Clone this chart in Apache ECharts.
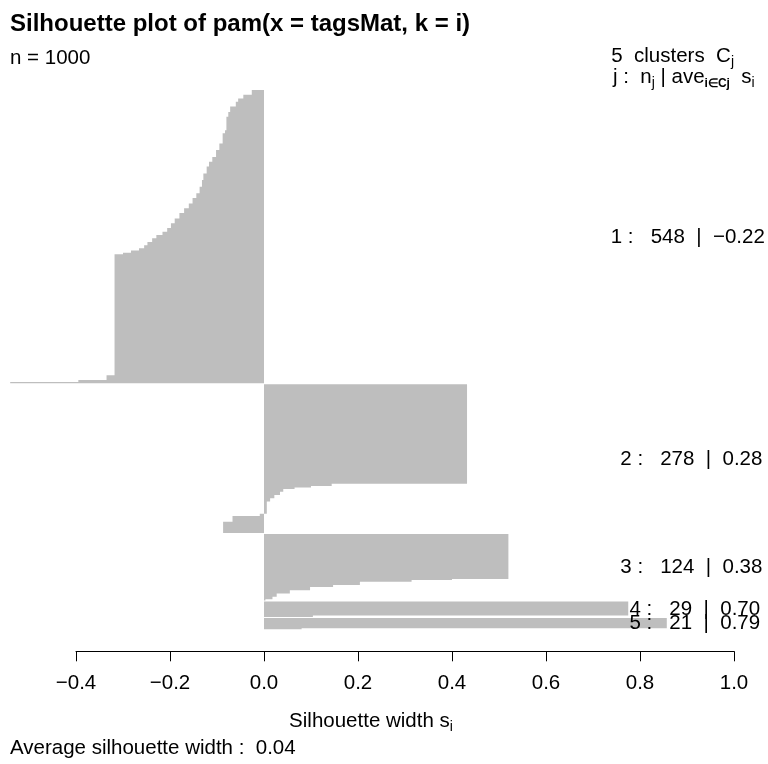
<!DOCTYPE html>
<html>
<head>
<meta charset="utf-8">
<script src="https://cdn.jsdelivr.net/npm/echarts@6/dist/echarts.min.js"></script>
<style>
  html, body { margin: 0; padding: 0; background: #ffffff; }
  #chart { width: 768px; height: 764px; }
</style>
</head>
<body>
<div id="chart"></div>
<script>
// Silhouette widths s(i) for each cluster, sorted from the top bar down,
// stored as runs of [width, number of observations].
const cluster1 = [
  [-0.026, 9], [-0.044, 7], [-0.055, 6], [-0.060, 9], [-0.072, 10], [-0.076, 9],
  [-0.080, 25], [-0.083, 6], [-0.088, 19], [-0.095, 12], [-0.102, 13], [-0.110, 9],
  [-0.117, 9], [-0.122, 13], [-0.129, 12], [-0.132, 13], [-0.137, 12], [-0.144, 9],
  [-0.152, 10], [-0.160, 9], [-0.170, 9], [-0.180, 10], [-0.190, 9], [-0.198, 9],
  [-0.206, 7], [-0.216, 6], [-0.229, 6], [-0.238, 7], [-0.248, 6], [-0.255, 6],
  [-0.266, 4], [-0.283, 4], [-0.300, 3], [-0.318, 226], [-0.335, 9], [-0.395, 4],
  [-0.540, 2]
];
const cluster2 = [
  [0.432, 186], [0.144, 4], [0.100, 3], [0.065, 3], [0.041, 5], [0.034, 6],
  [0.022, 6], [0.013, 6], [0.006, 23], [-0.009, 4], [-0.067, 11], [-0.087, 21]
];
const cluster3 = [
  [0.520, 84], [0.400, 2], [0.314, 3], [0.204, 6], [0.147, 4], [0.098, 6],
  [0.055, 6], [0.027, 6], [0.018, 5], [0.003, 2]
];
const cluster4 = [[0.775, 26], [0.104, 3]];
const cluster5 = [[0.857, 19], [0.080, 2]];

const clusterIds = ['1', '2', '3', '4', '5'];
const clusterSizes = [548, 278, 124, 29, 21];
const clusterAverages = ['-0.22', '0.28', '0.38', '0.70', '0.79'];
const totalN = 1000;
const averageWidth = '0.04';
const clusterGap = 2;              // empty bar slots between clusters

const FONT = '"Liberation Sans", Arial, Helvetica, sans-serif';
const BAR_GREY = '#bebebe';

// Lay the observations out in bar slots, top to bottom, with gaps between clusters.
const clusters = [cluster1, cluster2, cluster3, cluster4, cluster5];
const barData = [];
const clusterSpans = [];
let slot = 0;
clusters.forEach((runs, ci) => {
  if (ci > 0) slot += clusterGap;
  const start = slot;
  runs.forEach(([w, count]) => {
    for (let k = 0; k < count; k++) {
      barData.push([w, slot]);
      slot++;
    }
  });
  clusterSpans.push([start, slot]);
});
const slotNames = [];
for (let i = 0; i < slot; i++) slotNames.push(String(i));

const chart = echarts.init(document.getElementById('chart'), null, { renderer: 'canvas' });

chart.setOption({
  animation: false,
  backgroundColor: '#ffffff',
  grid: { left: 76, right: 34, top: 90, height: 539.3, containLabel: false },
  xAxis: {
    type: 'value',
    min: -0.4,
    max: 1.0,
    interval: 0.2,
    offset: 22,
    axisLine: { show: true, onZero: false, lineStyle: { color: '#000', width: 1 } },
    axisTick: { show: true, length: 10, lineStyle: { color: '#000', width: 1 } },
    splitLine: { show: false },
    axisLabel: {
      margin: 22,
      color: '#000',
      fontSize: 20.5,
      fontFamily: FONT,
      formatter: v => (Math.abs(v) < 1e-9 ? 0 : v).toFixed(1).replace('-', '\u2212')
    }
  },
  yAxis: {
    type: 'category',
    data: slotNames,
    inverse: true,
    show: false,
    boundaryGap: true
  },
  series: [{
    type: 'bar',
    data: barData,
    barCategoryGap: '0%',
    barGap: '0%',
    barWidth: '100%',
    large: true,
    largeThreshold: 200,
    clip: false,
    silent: true,
    itemStyle: { color: BAR_GREY }
  }]
});

// Text measurement for the cluster summary labels (anchored at 80% of their width).
const measureCtx = document.createElement('canvas').getContext('2d');
function textWidth(str, size) {
  measureCtx.font = size + 'px ' + FONT;
  return measureCtx.measureText(str).width;
}

const labelSize = 20.5;
const sub = { fontSize: 14, lineHeight: 14, verticalAlign: 'bottom', fontFamily: FONT, fill: '#000' };
const main = { fontSize: labelSize, lineHeight: 26, fontFamily: FONT, fill: '#000' };

const graphics = [];

graphics.push({
  type: 'text',
  style: {
    x: 10, y: 24, text: 'Silhouette plot of pam(x = tagsMat, k = i)',
    font: 'bold 24px ' + FONT, fill: '#000', align: 'left', verticalAlign: 'middle'
  }
});
graphics.push({
  type: 'text',
  style: {
    x: 10, y: 58, text: 'n = ' + totalN,
    font: labelSize + 'px ' + FONT, fill: '#000', align: 'left', verticalAlign: 'middle'
  }
});
graphics.push({
  type: 'text',
  style: {
    x: 734, y: 56, align: 'right', verticalAlign: 'middle',
    text: '{m|' + clusters.length + '  clusters  C}{s|j}',
    rich: { m: main, s: sub }
  }
});
graphics.push({
  type: 'text',
  style: {
    x: 613, y: 77, align: 'left', verticalAlign: 'middle',
    text: '{m|j :  n}{s|j}{m| | ave}{b|i\u2208Cj}{m|  s}{s|i}',
    rich: {
      m: main, s: sub,
      b: { fontSize: 12, lineHeight: 13, verticalAlign: 'bottom', fontWeight: 'bold', fontFamily: FONT, fill: '#000' }
    }
  }
});

// Cluster summaries, vertically centred on each cluster's block of bars.
clusterSpans.forEach(([s, e], i) => {
  const label = clusterIds[i] + ' :   ' + clusterSizes[i] + '  |  ' +
    clusterAverages[i].replace('-', '\u2212');
  const p = chart.convertToPixel({ gridIndex: 0 }, [1.0, (s + e - 1) / 2]);
  const w = textWidth(label, labelSize);
  graphics.push({
    type: 'text',
    z: 10,
    style: {
      x: p[0] - 0.8 * w, y: p[1], text: label,
      font: labelSize + 'px ' + FONT, fill: '#000', align: 'left', verticalAlign: 'middle'
    }
  });
});

graphics.push({
  type: 'text',
  style: {
    x: 371, y: 721, align: 'center', verticalAlign: 'middle',
    text: '{m|Silhouette width s}{s|i}',
    rich: { m: main, s: sub }
  }
});
graphics.push({
  type: 'text',
  style: {
    x: 10, y: 748, text: 'Average silhouette width :  ' + averageWidth,
    font: labelSize + 'px ' + FONT, fill: '#000', align: 'left', verticalAlign: 'middle'
  }
});

chart.setOption({ graphic: graphics });
</script>
</body>
</html>
